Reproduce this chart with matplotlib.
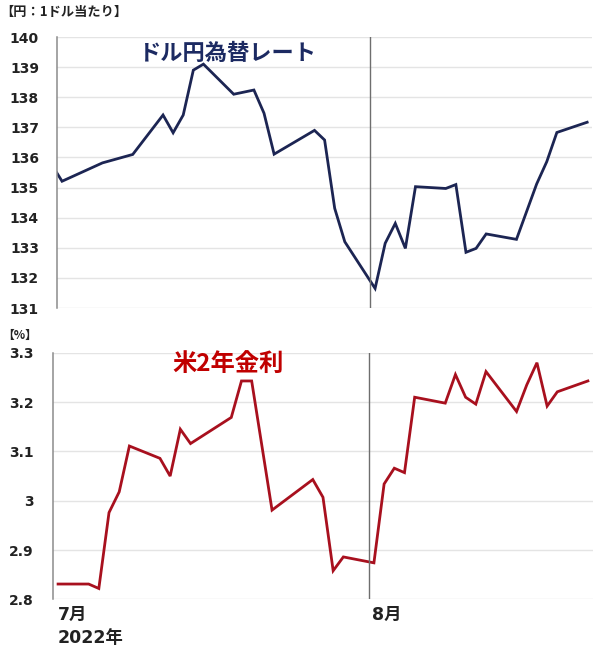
import pandas as pd
import matplotlib
matplotlib.use('Agg')
import matplotlib.pyplot as plt

plt.rcParams['font.family'] = ['Noto Sans CJK JP', 'DejaVu Sans']
num_font = ['DejaVu Sans', 'Noto Sans CJK JP']

# USD/JPY
fx_dates = ['2022-06-30', '2022-07-01', '2022-07-05', '2022-07-08', '2022-07-11', '2022-07-12',
            '2022-07-13', '2022-07-14', '2022-07-15', '2022-07-18', '2022-07-20', '2022-07-21',
            '2022-07-22', '2022-07-26', '2022-07-27', '2022-07-28', '2022-07-29', '2022-08-01',
            '2022-08-02', '2022-08-03', '2022-08-04', '2022-08-05', '2022-08-08', '2022-08-09',
            '2022-08-10', '2022-08-11', '2022-08-12', '2022-08-15', '2022-08-17', '2022-08-18',
            '2022-08-19', '2022-08-22']
fx_vals = [135.75, 135.21, 135.82, 136.10, 137.41, 136.82, 137.41, 138.90, 139.10, 138.10,
           138.24, 137.47, 136.11, 136.90, 136.58, 134.31, 133.20, 131.65, 133.15, 133.81,
           132.98, 135.03, 134.97, 135.10, 132.85, 132.98, 133.46, 133.28, 135.12, 135.86,
           136.83, 137.17]

# US 2y yield
y2_dates = ['2022-07-01', '2022-07-04', '2022-07-05', '2022-07-06', '2022-07-07', '2022-07-08',
            '2022-07-11', '2022-07-12', '2022-07-13', '2022-07-14', '2022-07-18', '2022-07-19',
            '2022-07-20', '2022-07-22', '2022-07-26', '2022-07-27', '2022-07-28', '2022-07-29',
            '2022-08-01', '2022-08-02', '2022-08-03', '2022-08-04', '2022-08-05', '2022-08-08',
            '2022-08-09', '2022-08-10', '2022-08-11', '2022-08-12', '2022-08-15', '2022-08-16',
            '2022-08-17', '2022-08-18', '2022-08-19', '2022-08-22']
y2_vals = [2.831, 2.831, 2.822, 2.976, 3.018, 3.111, 3.086, 3.050, 3.145, 3.116, 3.169, 3.243,
           3.243, 2.981, 3.043, 3.007, 2.858, 2.886, 2.874, 3.034, 3.066, 3.057, 3.210, 3.198,
           3.256, 3.210, 3.196, 3.262, 3.181, 3.235, 3.280, 3.192, 3.221, 3.243]

fx_ticks = [131, 132, 133, 134, 135, 136, 137, 138, 139, 140]
y2_ticks = [2.8, 2.9, 3.0, 3.1, 3.2, 3.3]
y2_labels = ['2.8', '2.9', '3', '3.1', '3.2', '3.3']

start = pd.Timestamp('2022-07-01')
def day_pos(dates):
    return [(pd.Timestamp(d) - start).days + 0.5 for d in dates]

aug1 = (pd.Timestamp('2022-08-01') - start).days

fig = plt.figure(figsize=(6.0, 6.52), dpi=100)
ax1 = fig.add_axes([0.095, 0.5276, 0.892, 0.4156])
ax2 = fig.add_axes([0.0883, 0.0808, 0.9, 0.378])

def style(ax, pad):
    for s in ['top', 'right', 'bottom']:
        ax.spines[s].set_visible(False)
    ax.spines['left'].set_color('#8c8c8c')
    ax.spines['left'].set_linewidth(1.1)
    ax.grid(axis='y', color='#e4e4e4', lw=1.0)
    ax.set_axisbelow(True)
    ax.tick_params(axis='y', length=0, pad=pad, labelsize=10, labelcolor='#222222')
    for t in ax.get_yticklabels():
        t.set_fontweight('bold')
        t.set_family(num_font)
    ax.set_xlim(0, 53)
    ax.axvline(aug1, color='#6e6e6e', lw=1.0)

ax1.plot(day_pos(fx_dates), fx_vals, color='#1c2553', lw=2.0, solid_joinstyle='miter')
ax1.set_ylim(131, 140)
ax1.set_yticks(fx_ticks)
ax1.set_yticklabels([str(v) for v in fx_ticks])
style(ax1, 13)
ax1.set_xticks([])
ax1.text(0.32, 0.94, 'ドル円為替レート', transform=ax1.transAxes, ha='center', va='center',
         fontsize=16, fontweight='bold', color='#1c2a62')

ax2.plot(day_pos(y2_dates), y2_vals, color='#a8101e', lw=2.0, solid_joinstyle='miter')
ax2.set_ylim(2.8, 3.3)
ax2.set_yticks(y2_ticks)
ax2.set_yticklabels(y2_labels)
style(ax2, 14)
ax2.set_xticks([0.5, aug1 + 0.3])
ax2.set_xticklabels(['7月\n2022年', '8月'], fontsize=12.5, fontweight='bold', color='#222222',
                    ha='left', va='top', linespacing=1.35, family=num_font)
ax2.tick_params(axis='x', length=0, pad=5)
ax2.text(0.325, 0.955, '米2年金利', transform=ax2.transAxes, ha='center', va='center',
         fontsize=17.5, fontweight='bold', color='#c00000')

fig.text(0.0, 0.981, '【円：1ドル当たり】', ha='left', va='center', fontsize=9.5,
         fontweight='bold', color='#222222')
fig.text(0.003, 0.486, '【%】', ha='left', va='center', fontsize=8.5,
         fontweight='bold', color='#222222')

fig.savefig('out.png', dpi=100, facecolor='white')
